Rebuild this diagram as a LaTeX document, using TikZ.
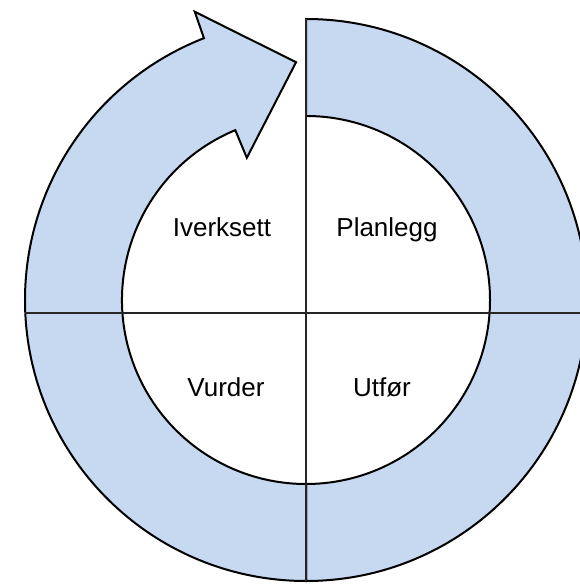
\documentclass[tikz,border=0pt]{standalone}
\usepackage{fontspec}
\setmainfont{Liberation Sans}
\usetikzlibrary{calc}
\definecolor{ringblue}{RGB}{198,217,240}

\begin{document}
\begin{tikzpicture}[x=1bp, y=1bp,
		ring/.style={fill=ringblue, draw=black, line width=2bp, line join=miter},
		axis line/.style={draw=black!85, line width=2bp},
		phase/.style={font=\fontsize{26bp}{30bp}\selectfont, anchor=base}]
		\useasboundingbox (0,0) rectangle (580,584);
		\clip (0,0) rectangle (580,584);
		\coordinate (c) at (306,284);
		\draw[ring] ($(c)+(90:281)$) arc[start angle=90, end angle=-90, radius=281bp] -- ($(c)+(-90:184)$) arc[start angle=-90, end angle=90, radius=184bp] -- cycle;
		\draw[ring] ($(c)+(-90:281)$) arc[start angle=270, end angle=111.3, radius=281bp] -- ($(c)+(111.1:309)$) -- ($(c)+(92.4:238)$) -- ($(c)+(112.6:154)$) -- ($(c)+(112.6:184)$) arc[start angle=112.6, end angle=270, radius=184bp] -- cycle;
		\coordinate (top) at ($(c)+(0,281)$);
		\coordinate (bottom) at ($(c)+(0,-281)$);
		\coordinate (left) at (25,271);
		\coordinate (right) at (580,271);
		\draw[axis line] (top) -- (bottom);
		\draw[axis line] (left) -- (right);
		\node[phase] (iverksett) at (222,347) {Iverksett};
		\node[phase] (planlegg) at (387,347) {Planlegg};
		\node[phase] (vurder) at (226,187) {Vurder};
		\node[phase] (utfor) at (382,187) {Utfør};
	\end{tikzpicture}
\end{document}
